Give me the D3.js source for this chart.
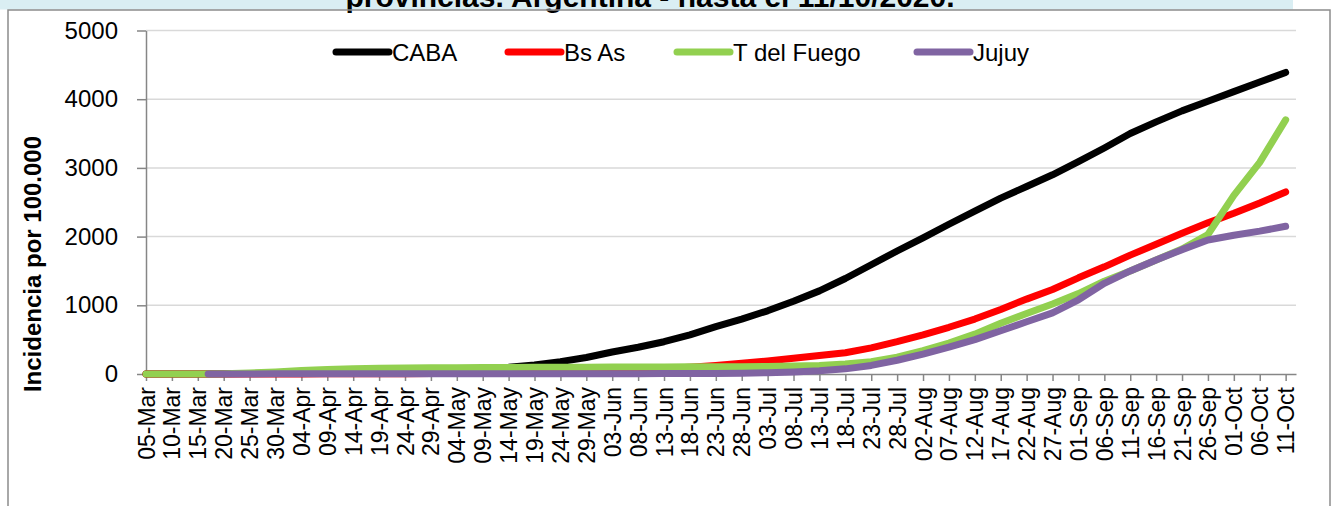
<!DOCTYPE html>
<html>
<head>
<meta charset="utf-8">
<script src="https://cdn.jsdelivr.net/npm/d3@7"></script>
<style>
  body { margin: 0; background: #fff; }
  svg { display: block; font-family: "Liberation Sans", Arial, sans-serif; }
</style>
</head>
<body>
<svg id="chart"></svg>
<script>
// fechas cada 5 dias, 05-Mar a 11-Oct 2020
const dates = ['2020-03-05','2020-03-10','2020-03-15','2020-03-20','2020-03-25','2020-03-30',
  '2020-04-04','2020-04-09','2020-04-14','2020-04-19','2020-04-24','2020-04-29',
  '2020-05-04','2020-05-09','2020-05-14','2020-05-19','2020-05-24','2020-05-29',
  '2020-06-03','2020-06-08','2020-06-13','2020-06-18','2020-06-23','2020-06-28',
  '2020-07-03','2020-07-08','2020-07-13','2020-07-18','2020-07-23','2020-07-28',
  '2020-08-02','2020-08-07','2020-08-12','2020-08-17','2020-08-22','2020-08-27',
  '2020-09-01','2020-09-06','2020-09-11','2020-09-16','2020-09-21','2020-09-26',
  '2020-10-01','2020-10-06','2020-10-11'];

const caba = [0,0,1,3,8,12, 18,25,32,40,48,58, 68,80,100,130,180,240,
  320,390,470,570,690,800, 920,1060,1210,1390,1590,1790,
  1980,2180,2370,2560,2730,2900, 3090,3290,3500,3670,3830,3970, 4110,4250,4390];

const bsas = [0,0,0,0,0,0, 1,2,3,4,5,7, 9,11,14,18,23,30,
  38,60,80,100,125,155, 190,230,270,310,380,470,
  570,680,800,940,1090,1230, 1400,1560,1730,1890,2050,2200, 2340,2490,2650];

const tdf = [0,0,0,5,15,30, 50,65,75,82,87,90, 92,94,96,98,100,100,
  101,102,103,104,105,107, 110,115,125,145,180,245,
  340,450,580,740,880,1020, 1170,1350,1500,1660,1820,2030, 2600,3080,3700];

// Jujuy empieza el 17-Mar
const jujuyStart = '2020-03-17';
const jujuy = [null,null,null,1,1,2, 2,3,3,3,3,3, 3,3,3,3,3,4,
  4,5,6,7,9,12, 18,30,48,75,125,200,
  290,390,500,630,760,890, 1080,1320,1500,1660,1810,1950, 2020,2080,2150];

const seriesNames = ['CABA', 'Bs As', 'T del Fuego', 'Jujuy'];
const seriesColors = ['#000000', '#ff0000', '#92d050', '#8064a2'];
const yTicks = [0, 1000, 2000, 3000, 4000, 5000];

class LineChart {
  constructor (config, data) {
    this.config = {
      parent: config.parent,
      width: config.width || 1337,
      height: config.height || 506,
      margin: config.margin || {top:30.5, right:41, bottom:132, left:146},
      ylabel: config.ylabel || '',
      title: config.title || ''
    };
    this.data = data;
    this.init();
  }

  init() {
    let self = this;

    self.svg = d3.select(self.config.parent)
      .attr('width', self.config.width)
      .attr('height', self.config.height);

    // banda del titulo
    self.svg.append('rect')
      .attr('x', 0).attr('y', 0)
      .attr('width', 1293).attr('height', 9.5)
      .attr('fill', '#daeef3');

    self.svg.append('text')
      .attr('x', 650)
      .attr('y', 6.5)
      .attr('text-anchor', 'middle')
      .style('font-size', '30px')
      .style('font-weight', 'bold')
      .text(self.config.title);

    // borde del area del grafico
    self.svg.append('rect')
      .attr('x', 8).attr('y', 10)
      .attr('width', 1322).attr('height', 520)
      .attr('fill', 'none')
      .attr('stroke', '#8c8c8c')
      .attr('stroke-width', 1.5);

    self.chart = self.svg.append('g')
      .attr('transform', `translate(${self.config.margin.left}, ${self.config.margin.top})`);

    self.inner_width = self.config.width - self.config.margin.left - self.config.margin.right - 0;
    self.inner_height = self.config.height - self.config.margin.top - self.config.margin.bottom;

    self.parse = d3.timeParse('%Y-%m-%d');

    self.xscale = d3.scaleTime()
      .domain([self.parse('2020-03-05'), self.parse('2020-10-13')])
      .range([0, 1150]);

    self.yscale = d3.scaleLinear()
      .domain([0, 5000])
      .range([self.inner_height, 0]);

    self.xaxis = d3.axisBottom(self.xscale)
      .tickValues(dates.map(self.parse))
      .tickFormat(d3.timeFormat('%d-%b'))
      .tickSize(7)
      .tickSizeOuter(0);

    self.yaxis = d3.axisLeft(self.yscale)
      .tickValues(yTicks)
      .tickFormat(d3.format('d'))
      .tickSize(9)
      .tickPadding(19)
      .tickSizeOuter(0);

    self.grid_group = self.chart.append('g');
    self.xaxis_group = self.chart.append('g')
      .attr('transform', `translate(0, ${self.inner_height})`);
    self.yaxis_group = self.chart.append('g');
    self.line_group = self.chart.append('g');

    self.svg.append('text')
      .attr('transform', 'translate(33, 264) rotate(-90)')
      .attr('text-anchor', 'middle')
      .attr('dy', '0.35em')
      .style('font-size', '24px')
      .style('font-weight', 'bold')
      .text(self.config.ylabel);

    self.legend = self.svg.append('g');
  }

  render() {
    let self = this;

    self.grid_group.selectAll('line')
      .data(yTicks.filter(d => d > 0))
      .join('line')
      .attr('x1', 0)
      .attr('x2', 1150)
      .attr('y1', d => self.yscale(d))
      .attr('y2', d => self.yscale(d))
      .attr('stroke', '#d9d9d9')
      .attr('stroke-width', 1.5);

    self.xaxis_group.call(self.xaxis);
    self.xaxis_group.selectAll('text')
      .attr('transform', 'rotate(-90)')
      .attr('x', -13)
      .attr('y', 0)
      .attr('dy', '0.35em')
      .style('text-anchor', 'end')
      .style('font-size', '23px')
      .attr('fill', '#000');

    self.yaxis_group.call(self.yaxis);
    self.yaxis_group.selectAll('text')
      .style('font-size', '24px')
      .attr('fill', '#000');

    [self.xaxis_group, self.yaxis_group].forEach(g => {
      g.selectAll('.domain').attr('stroke', '#868686').attr('stroke-width', 1.5);
      g.selectAll('.tick line').attr('stroke', '#868686').attr('stroke-width', 1.5);
    });

    const line = d3.line()
      .defined(d => d.value !== null)
      .x(d => self.xscale(d.date))
      .y(d => self.yscale(d.value));

    self.line_group.selectAll('path')
      .data(self.data)
      .join('path')
      .attr('d', d => line(d.values))
      .attr('fill', 'none')
      .attr('stroke', d => d.color)
      .attr('stroke-width', 7)
      .attr('stroke-linejoin', 'round')
      .attr('stroke-linecap', 'round');

    const legendX = [336, 508, 677, 917];
    const items = self.legend.selectAll('g')
      .data(self.data)
      .join('g')
      .attr('transform', (d, i) => `translate(${legendX[i]}, 52)`);

    items.append('line')
      .attr('x1', 0).attr('x2', 53)
      .attr('y1', 0).attr('y2', 0)
      .attr('stroke', d => d.color)
      .attr('stroke-width', 7)
      .attr('stroke-linecap', 'round');

    items.append('text')
      .attr('x', 56)
      .attr('y', 8.5)
      .style('font-size', '24px')
      .text(d => d.name);
  }
}

const parse = d3.timeParse('%Y-%m-%d');
const valuesList = [caba, bsas, tdf, jujuy];
const data = seriesNames.map((name, i) => {
  let values = dates.map((d, j) => ({date: parse(d), value: valuesList[i][j]}));
  if (name === 'Jujuy') {
    values = [{date: parse(jujuyStart), value: 0}].concat(values.filter(v => v.value !== null));
  }
  return {name: name, color: seriesColors[i], values: values};
});

const chart = new LineChart({
  parent: '#chart',
  width: 1337,
  height: 506,
  ylabel: 'Incidencia por 100.000',
  title: 'provincias. Argentina - hasta el 11/10/2020.'
}, data);
chart.render();
</script>
</body>
</html>
